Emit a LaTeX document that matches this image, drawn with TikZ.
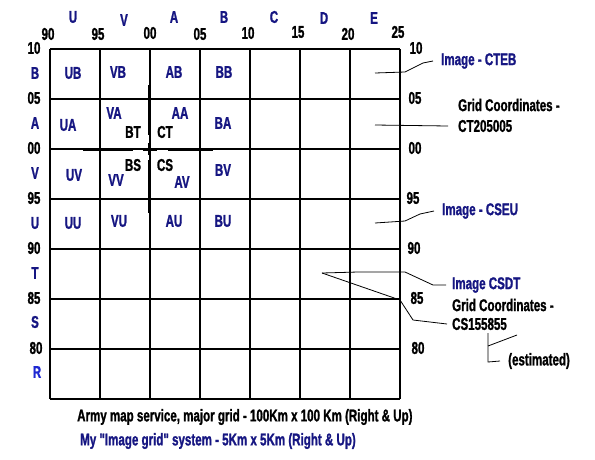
\documentclass[tikz,border=0pt]{standalone}
\usepackage{fontspec}
\newfontfamily\imp[FakeStretch=0.68,FakeBold=1.2]{Liberation Sans}
\definecolor{navy}{RGB}{22,22,130}
\definecolor{brightblue}{RGB}{30,40,210}
\begin{document}
\begin{tikzpicture}[x=1pt,y=-1pt,
  lbl/.style={font=\imp\bfseries\fontsize{17}{17}\selectfont, inner sep=0pt},
  num/.style={lbl, text=black},
  blu/.style={lbl, text=navy},
  ann/.style={lbl, anchor=west},
  gridline/.style={draw=black, line width=1.3pt},
  thick/.style={draw=black, line width=3pt},
  con/.style={draw=black, line width=0.8pt}]
\useasboundingbox (0,0) rectangle (595,459);
\fill[white] (0,0) rectangle (595,459);
% grid
\foreach \i in {0,...,7} {
  \draw[gridline] (50+50*\i,49) -- (50+50*\i,399);
  \draw[gridline] (50,49+50*\i) -- (400,49+50*\i);
}
% thick cross
\draw[thick] (149,85) -- (149,135);
\draw[thick] (149,160) -- (149,213);
\draw[thick] (83,149) -- (133,149);
\draw[thick] (168,149) -- (213,149);
\draw[thick] (143,149) -- (157,149);
\draw[thick] (149,143) -- (149,155);
% top letters
\node[blu] (tU) at (73,17) {U};
\node[blu] (tV) at (124,20) {V};
\node[blu] (tA) at (174,17) {A};
\node[blu] (tB) at (224,17) {B};
\node[blu] (tC) at (274,17) {C};
\node[blu] (tD) at (324,18) {D};
\node[blu] (tE) at (374,18) {E};
% top numbers
\node[num] (n90) at (48,34) {90};
\node[num] (n95) at (98,34) {95};
\node[num] (n00) at (150,33) {00};
\node[num] (n05) at (200,34) {05};
\node[num] (n10) at (248,33) {10};
\node[num] (n15) at (298,32) {15};
\node[num] (n20) at (348,34) {20};
\node[num] (n25) at (398,32) {25};
% left numbers
\node[num] (l10) at (34,48) {10};
\node[num] (l05) at (34,98) {05};
\node[num] (l00) at (34,148) {00};
\node[num] (l95) at (34,198) {95};
\node[num] (l90) at (34,248) {90};
\node[num] (l85) at (34,298) {85};
\node[num] (l80) at (36,348) {80};
% left letters
\node[blu] (lB) at (35,73) {B};
\node[blu] (lA) at (35,123) {A};
\node[blu] (lV) at (35,173) {V};
\node[blu] (lU) at (35,223) {U};
\node[blu] (lT) at (35,273) {T};
\node[blu] (lS) at (35,322) {S};
\node[lbl, text=brightblue] (lR) at (37,372) {R};
% right numbers
\node[num] (r10) at (416,48) {10};
\node[num] (r05) at (415,98) {05};
\node[num] (r00) at (415,148) {00};
\node[num] (r95) at (413,198) {95};
\node[num] (r90) at (414,248) {90};
\node[num] (r85) at (417,298) {85};
\node[num] (r80) at (418,348) {80};
% cell labels
\node[blu] (UB) at (73,73) {UB};
\node[blu] (VB) at (118,72) {VB};
\node[blu] (AB) at (174,72) {AB};
\node[blu] (BB) at (224,72) {BB};
\node[blu] (VA) at (114,113) {VA};
\node[blu] (AA) at (180,113) {AA};
\node[blu] (UA) at (68,125) {UA};
\node[blu] (BA) at (223,123) {BA};
\node[blu] (UV) at (74,175) {UV};
\node[blu] (VV) at (116,180) {VV};
\node[blu] (AV) at (182,182) {AV};
\node[blu] (BV) at (223,170) {BV};
\node[blu] (UU) at (73,223) {UU};
\node[blu] (VU) at (119,221) {VU};
\node[blu] (AU) at (174,221) {AU};
\node[blu] (BU) at (223,221) {BU};
\node[num] (BT) at (133,132) {BT};
\node[num] (CT) at (165,132) {CT};
\node[num] (BS) at (133,165) {BS};
\node[num] (CS) at (165,165) {CS};
% annotations
\node[ann, text=navy] (cteb) at (441,61) {Image - CTEB};
\node[ann, text=black] (gc1) at (458,105) {Grid Coordinates -};
\node[ann, text=black] (ct) at (458,126) {CT205005};
\node[ann, text=navy] (cseu) at (442,211) {Image - CSEU};
\node[ann, text=navy] (csdt) at (452,285) {Image CSDT};
\node[ann, text=black] (gc2) at (452,305) {Grid Coordinates -};
\node[ann, text=black] (cs) at (452,324) {CS155855};
\node[ann, text=black] (est) at (508,361) {(estimated)};
% connectors
\coordinate (p1) at (375,73);
\draw[con] (p1) -- (405,72) -- (423,63) -- ([xshift=-8pt]cteb.west);
\coordinate (p2) at (375,125);
\draw[con] (p2) -- ([xshift=-10pt]ct.west);
\coordinate (p3) at (375,223);
\draw[con] (p3) -- (405,221) -- (420,214) -- ([xshift=-8pt]cseu.west);
\coordinate (p4) at (322,273);
\draw[con] (p4) -- (358,272) -- (405,272) -- (433,285) -- ([xshift=-6pt]csdt.west);
\draw[con] (p4) -- (400,300) -- (413,320) -- ([xshift=-5pt]cs.west);
\coordinate (e1) at (488,333);
\coordinate (e2) at (517,335);
\draw[con] (e1) -- (488,362) -- ([xshift=-8pt]est.west);
\draw[con] (488,346) -- (e2);
% bottom text
\node[ann, text=black] (army) at (77,417) {Army map service, major grid - 100Km x 100 Km (Right \& Up)};
\node[ann, text=navy] (my) at (80,441) {My "Image grid" system - 5Km x 5Km (Right \& Up)};
\end{tikzpicture}
\end{document}
